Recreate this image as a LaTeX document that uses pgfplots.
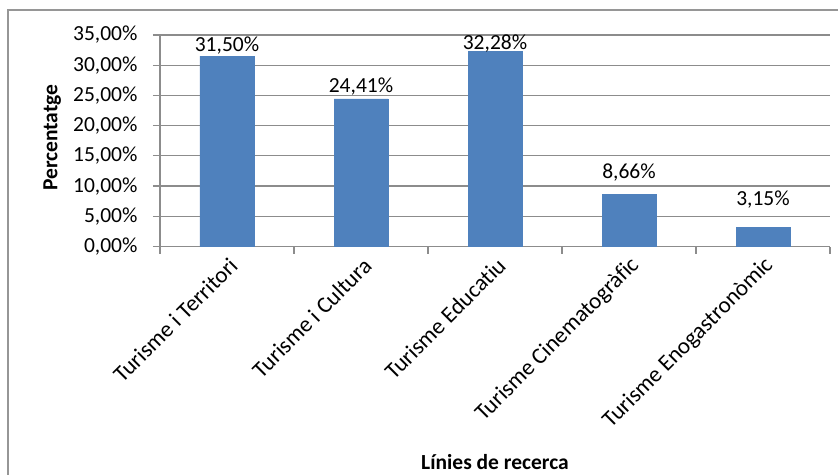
\documentclass[border=0pt]{standalone}
\usepackage{pgfplots}
\pgfplotsset{compat=1.18}
\usepackage{fontspec}
\setmainfont{Carlito}[Ligatures={NoCommon}]
\definecolor{barblue}{RGB}{79,129,189}
\definecolor{gridgray}{RGB}{140,140,140}
\definecolor{framegray}{RGB}{150,150,150}

\begin{document}
\begin{tikzpicture}[font=\fontsize{21.5pt}{25pt}\selectfont]
\useasboundingbox (0,0) rectangle (838pt,474pt);
\draw[framegray, line width=1.5pt] (8pt,-60pt) rectangle (900pt,464pt);
\begin{axis}[
	at={(160pt,227.5pt)},
	anchor=south west,
	width=670pt,
	height=211.5pt,
	scale only axis,
	xmin=-0.5, xmax=4.5,
	ymin=0, ymax=35,
	axis x line*=bottom,
	axis y line*=left,
	axis line style={-, gridgray, line width=1.2pt},
	tick align=outside,
	major tick length=7pt,
	tick style={gridgray, line width=1.2pt},
	ymajorgrids=true,
	grid style={gridgray, line width=1.2pt},
	ytick={0,5,...,35},
	yticklabel={\pgfmathprintnumber[fixed,fixed zerofill,precision=2,use comma,assume math mode=true]{\tick}\%},
	yticklabel style={xshift=-12pt},
	xtick={-0.5,0.5,...,4.5},
	x tick label as interval,
	xticklabels={Turisme i Territori,Turisme i Cultura,Turisme Educatiu,Turisme Cinematogràfic,Turisme Enogastronòmic},
	xticklabel style={font=\fontsize{23pt}{26pt}\selectfont, xshift=9pt, yshift=-6pt, rotate=45, anchor=east},
	ylabel={\bfseries Percentatge},
	ylabel style={at={(axis description cs:-0.161,0.515)}, anchor=center},
	xlabel={\bfseries Línies de recerca},
	xlabel style={at={(axis description cs:0.5,-1.02)}, anchor=center},
	visualization depends on={value \thisrow{off}\as\off},
	nodes near coords={\pgfmathprintnumber[fixed,fixed zerofill,precision=2,use comma,assume math mode=true]{\pgfplotspointmeta}\%},
	every node near coord/.append style={anchor=center, yshift=\off pt, black},
]
\addplot[ybar, bar width=54pt, fill=barblue, draw=barblue] table {
x y off
0 31.50 11
1 24.41 12
2 32.28 8
3 8.66 22
4 3.15 28
};
\end{axis}
\end{tikzpicture}
\end{document}
